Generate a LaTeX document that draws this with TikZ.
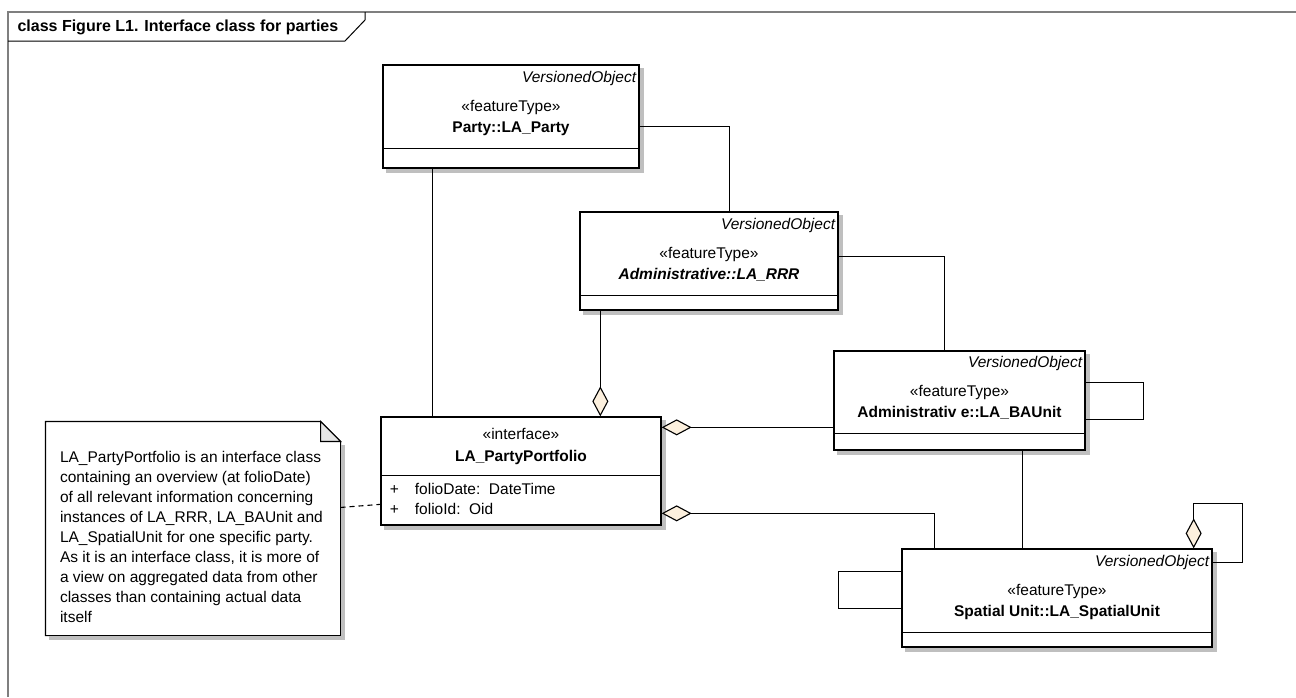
\documentclass[tikz,border=0pt]{standalone}
\usepackage{fontspec}
\setmainfont{Liberation Sans}
\usetikzlibrary{arrows.meta}
\definecolor{diafill}{HTML}{FCF0DE}
\definecolor{framegray}{HTML}{7F7F7F}
\definecolor{shadegray}{HTML}{BFBFBF}

\begin{document}
\fontsize{15.5}{20}\selectfont
\begin{tikzpicture}[x=1pt,y=-1pt,line width=1.1pt,
  cls/.style={draw,line width=1.3pt,fill=white,inner sep=0pt},
  shadebox/.style={fill=shadegray,draw=none},
  vo/.style={anchor=base east,inner sep=0pt,font=\itshape},
  stereo/.style={anchor=base,inner sep=0pt},
  cname/.style={anchor=base,inner sep=0pt,font=\bfseries},
  attr/.style={anchor=base west,inner sep=0pt},
  agg/.style={-{Diamond[length=30pt,width=16pt,fill=diafill]}}]
\useasboundingbox (0,0) rectangle (1296,697);
% diagram frame and tab
\draw[framegray,line width=1.5pt] (8,697) -- (8,12) -- (1296,12);
\draw[line width=1pt] (8,41) -- (345,41) -- (365,20) -- (365,12);
\node[anchor=base west,inner sep=0pt,font=\bfseries\fontsize{16}{20}\selectfont] (title) at (17,31) {class Figure L1. Interface class for parties};

% classes
\node[cls,minimum width=256pt,minimum height=103pt] (party) at (511,116.5) {};
\draw ([shift={(0,-20)}]party.south west) -- ([shift={(0,-20)}]party.south east);
\node[vo] (partyvo) at ([shift={(-3,18)}]party.north east) {VersionedObject};
\node[stereo] (partyst) at ([shift={(0,47)}]party.north) {«featureType»};
\node[cname] (partynm) at ([shift={(0,68)}]party.north) {Party::LA\_Party};

\node[cls,minimum width=258pt,minimum height=98pt] (rrr) at (709,261) {};
\draw ([shift={(0,-15)}]rrr.south west) -- ([shift={(0,-15)}]rrr.south east);
\node[vo] (rrrvo) at ([shift={(-3,18)}]rrr.north east) {VersionedObject};
\node[stereo] (rrrst) at ([shift={(0,47)}]rrr.north) {«featureType»};
\node[cname,font=\bfseries\itshape] (rrrnm) at ([shift={(0,68)}]rrr.north) {Administrative::LA\_RRR};

\node[cls,minimum width=251pt,minimum height=99pt] (baunit) at (959.5,400.5) {};
\draw ([shift={(0,-17)}]baunit.south west) -- ([shift={(0,-17)}]baunit.south east);
\node[vo] (baunitvo) at ([shift={(-3,17)}]baunit.north east) {VersionedObject};
\node[stereo] (baunitst) at ([shift={(0,46)}]baunit.north) {«featureType»};
\node[cname] (baunitnm) at ([shift={(0,67)}]baunit.north) {Administrativ e::LA\_BAUnit};

\node[cls,minimum width=310pt,minimum height=98pt] (spatial) at (1057,598) {};
\draw ([shift={(0,-15)}]spatial.south west) -- ([shift={(0,-15)}]spatial.south east);
\node[vo] (spatialvo) at ([shift={(-3,18)}]spatial.north east) {VersionedObject};
\node[stereo] (spatialst) at ([shift={(0,47)}]spatial.north) {«featureType»};
\node[cname] (spatialnm) at ([shift={(0,68)}]spatial.north) {Spatial Unit::LA\_SpatialUnit};

\node[cls,minimum width=280pt,minimum height=108pt] (portfolio) at (521,471) {};
\draw ([shift={(0,-50)}]portfolio.south west) -- ([shift={(0,-50)}]portfolio.south east);
\node[stereo] (portfoliost) at ([shift={(0,23)}]portfolio.north) {«interface»};
\node[cname] (portfolionm) at ([shift={(0,45)}]portfolio.north) {LA\_PartyPortfolio};
\node[attr] (vis1) at ([shift={(9,78)}]portfolio.north west) {+};
\node[attr] (attr1) at ([shift={(34,78)}]portfolio.north west) {folioDate:\ \ DateTime};
\node[attr] (vis2) at ([shift={(9,98)}]portfolio.north west) {+};
\node[attr] (attr2) at ([shift={(34,98)}]portfolio.north west) {folioId:\ \ Oid};

% note
\node[minimum width=294pt,minimum height=213pt,inner sep=0pt] (note) at (193,528.5) {};
\draw[fill=white]
  (note.south west) -- (note.north west) -- ([xshift=-20pt]note.north east)
  -- ([shift={(0,20)}]note.north east) -- (note.south east) -- cycle;
\draw[fill=black!10] ([xshift=-20pt]note.north east) -- ([shift={(-20,20)}]note.north east)
  -- ([shift={(0,20)}]note.north east) -- cycle;
\node[anchor=base west,align=left,inner sep=0pt] (notetext) at ([shift={(14,201)}]note.north west)
  {LA\_PartyPortfolio is an interface class\\
   containing an overview (at folioDate)\\
   of all relevant information concerning\\
   instances of LA\_RRR, LA\_BAUnit and\\
   LA\_SpatialUnit for one specific party.\\
   As it is an interface class, it is more of\\
   a view on aggregated data from other\\
   classes than containing actual data\\
   itself};

% shadows (right and bottom strips)
\foreach \bx in {party,rrr,baunit,spatial,portfolio} {
  \fill[shadebox] ([shift={(0.7,4)}]\bx.north east) rectangle ([shift={(4.7,4.7)}]\bx.south east);
  \fill[shadebox] ([shift={(4,0.7)}]\bx.south west) rectangle ([shift={(4.7,4.7)}]\bx.south east);
}
\fill[shadebox] ([shift={(0.7,24)}]note.north east) rectangle ([shift={(4.7,4.7)}]note.south east);
\fill[shadebox] ([shift={(4,0.7)}]note.south west) rectangle ([shift={(4.7,4.7)}]note.south east);

% associations
\draw ([xshift=50pt]party.south west) -- ([xshift=52pt]portfolio.north west);
\draw ([shift={(0,62)}]party.north east) -| ([xshift=150pt]rrr.north west);
\draw ([shift={(0,45)}]rrr.north east) -| ([xshift=111pt]baunit.north west);
\draw[agg] ([xshift=21pt]rrr.south west) -- ([xshift=220pt]portfolio.north west);
\draw[agg] ([shift={(0,77)}]baunit.north west) -- ([shift={(0,11)}]portfolio.north east);
\draw[agg] ([xshift=33pt]spatial.north west) |- ([shift={(0,97)}]portfolio.north east);
\draw ([xshift=189pt]baunit.south west) -- ([xshift=121pt]spatial.north west);
\draw ([shift={(0,32)}]baunit.north east) -- ++(58,0) |- ([shift={(0,69)}]baunit.north east);
\draw ([shift={(0,23)}]spatial.north west) -- ++(-63,0) |- ([shift={(0,60)}]spatial.north west);
\draw[agg] ([shift={(0,14)}]spatial.north east) -- ++(30,0) -- ++(0,-59) -| ([xshift=-19pt]spatial.north east);
\draw[dash pattern=on 5pt off 4pt] ([shift={(0,86)}]note.north east) -- ([shift={(0,88)}]portfolio.north west);
\end{tikzpicture}
\end{document}
